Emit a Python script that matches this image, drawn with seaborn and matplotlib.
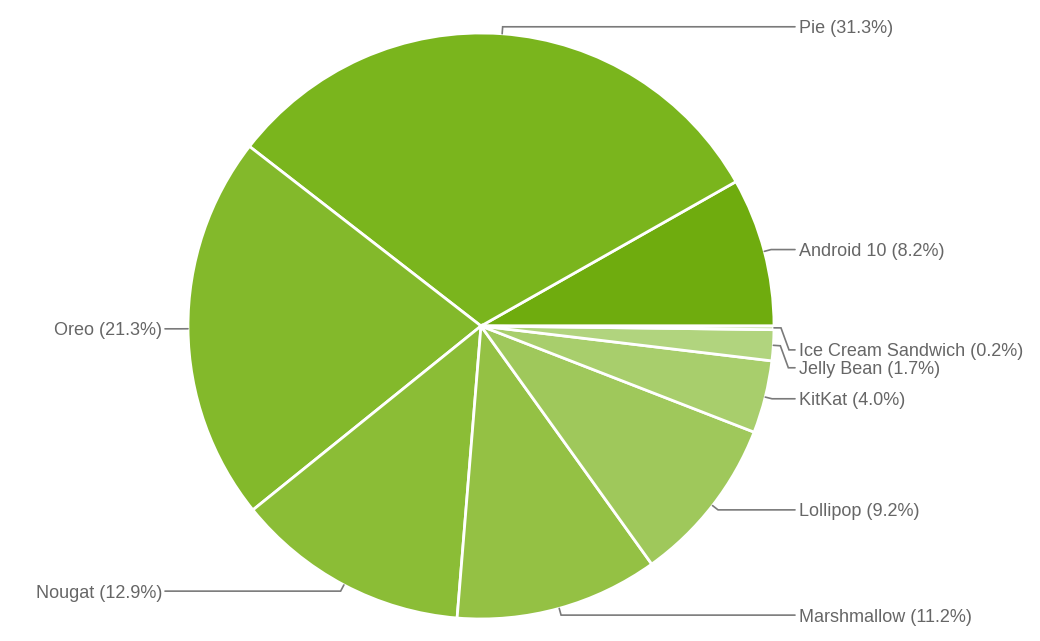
import numpy as np
import matplotlib
matplotlib.use("Agg")
import matplotlib.pyplot as plt
import seaborn as sns

# ---- data ----
versions = ["Android 10", "Pie", "Oreo", "Nougat", "Marshmallow",
            "Lollipop", "KitKat", "Jelly Bean", "Ice Cream Sandwich"]
shares = [8.2, 31.3, 21.3, 12.9, 11.2, 9.2, 4.0, 1.7, 0.2]
slice_colors = ["#6fac0e", "#7ab51d", "#83b92b", "#8bbd36", "#94c144",
                "#9fc85b", "#a8ce6c", "#b1d47e", "#c2dc98"]

# ---- layout (pixel space) ----
W, H = 1040, 641
CX, CY, R = 481, 326, 293
# vertical label shift (px, downwards) used to avoid overlapping labels
label_shift = {"Jelly Bean": 22, "Ice Cream Sandwich": 22}

sns.set_theme(style="white")
plt.rcParams["font.family"] = ["Liberation Sans", "DejaVu Sans"]

fig = plt.figure(figsize=(W / 100, H / 100), dpi=100)
ax = fig.add_axes([0, 0, 1, 1])

palette = sns.color_palette(slice_colors)
wedges, _ = ax.pie(shares, colors=palette, startangle=0, counterclock=True,
                   center=(CX, H - CY), radius=R,
                   wedgeprops=dict(edgecolor="white", linewidth=2))
ax.set_xlim(0, W)
ax.set_ylim(0, H)
ax.set_aspect("equal")
ax.axis("off")

line_col = "#7a7a7a"
text_col = "#666666"
for w, name, val in zip(wedges, versions, shares):
    m = np.deg2rad((w.theta1 + w.theta2) / 2)
    c, s = np.cos(m), np.sin(m)
    p0 = (CX + R * c, H - CY + R * s)
    p1 = (CX + (R + 7) * c, H - CY + (R + 7) * s)
    side = 1 if c >= 0 else -1
    ly = p1[1] - label_shift.get(name, 0)
    xs = [p0[0], p1[0]]
    ys = [p0[1], p1[1]]
    if name in label_shift:
        xs.append(p1[0] + 8 * side)
        ys.append(ly)
    end_x = 795 if side > 0 else 165
    xs.append(end_x)
    ys.append(ly)
    ax.plot(xs, ys, color=line_col, lw=1.2, solid_joinstyle="miter")
    tx = 799 if side > 0 else 162
    ax.text(tx, ly - 2, f"{name} ({val:.1f}%)", fontsize=13, color=text_col,
            ha="left" if side > 0 else "right", va="center")

fig.savefig("out.png", dpi=100, facecolor="white")
